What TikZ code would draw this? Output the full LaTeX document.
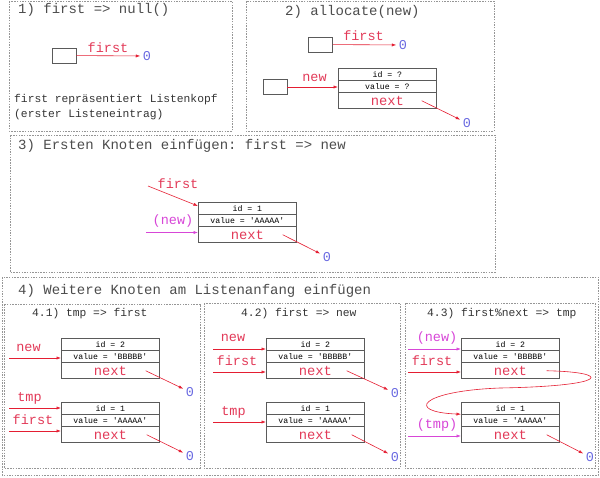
\documentclass[tikz,border=0pt]{standalone}
\usepackage{fontspec}
\setmonofont{Liberation Mono}
\usepackage{xcolor}
\usetikzlibrary{positioning,arrows.meta}
\definecolor{lblred}{RGB}{226,58,88}
\definecolor{ptrred}{RGB}{228,30,50}
\definecolor{lblmag}{RGB}{215,70,215}
\definecolor{zeroblue}{RGB}{105,105,225}
\definecolor{boxgray}{RGB}{90,90,90}
\definecolor{panelgray}{RGB}{150,150,150}
\tikzset{panel/.style={draw=panelgray,dash pattern=on 1.5pt off 1.2pt,line width=0.6pt},
title/.style={anchor=west,text=black!70,inner sep=0pt,font=\ttfamily\fontsize{14}{16}\selectfont},
subtitle/.style={anchor=west,text=black!80,inner sep=0pt,font=\ttfamily\fontsize{11.3}{15}\selectfont},
ptrbox/.style={draw=boxgray,line width=0.7pt,minimum width=24pt,minimum height=15pt,inner sep=0pt},
idrow/.style={draw=boxgray,line width=0.7pt,minimum width=98pt,minimum height=11.5pt,inner sep=0pt,font=\ttfamily\fontsize{8.2}{9}\selectfont},
nextrow/.style={idrow,minimum height=16pt,text=lblred,font=\ttfamily\fontsize{13.8}{14}\selectfont},
lbl/.style={inner sep=0pt,text=lblred,font=\ttfamily\fontsize{13.5}{14}\selectfont},
lblnew/.style={lbl,text=lblmag},
zero/.style={inner sep=2.5pt,text=zeroblue,font=\ttfamily\fontsize{13.5}{14}\selectfont},
ptr/.style={ptrred,line width=0.6pt,-{Latex[length=4.5pt,width=3.2pt]}},
ptrnew/.style={ptr,lblmag}}

\begin{document}
\begin{tikzpicture}[x=1pt,y=-1pt]
\useasboundingbox (0,0) rectangle (600,477);
% panels
\draw[panel] (9,1) rectangle (232,131);
\draw[panel] (246,1) rectangle (494,131);
\draw[panel] (10,135) rectangle (495,272);
\draw[panel] (2,277) rectangle (598,475);
\draw[panel] (4,304) rectangle (200,468);
\draw[panel] (204,303) rectangle (400,468);
\draw[panel] (405,303) rectangle (595,468);
% 1) first => null()
\node[title] (t1) at (18,10) {1) first => null()};
\node[ptrbox] (p1) at (64,55.5) {};
\node[lbl] (l1) at (108,48) {first};
\node[zero] (z1) at (147,56) {0};
\path[ptr] (p1) edge (z1);
\node[subtitle,align=left] (txt1) at (14,107.5) {first repräsentiert Listenkopf\\(erster Listeneintrag)};
% 2) allocate(new)
\node[title] (t2) at (285,12) {2) allocate(new)};
\node[ptrbox] (p2a) at (320.5,44.5) {};
\node[lbl] (l2a) at (363.5,36) {first};
\node[zero] (z2a) at (403,45) {0};
\path[ptr] (p2a) edge (z2a);
\node[ptrbox] (p2b) at (275,87) {};
\node[lbl] (l2b) at (314.5,78) {new};
\node[idrow,anchor=north west] (r2i) at (338,68) {id = ?};
\node[idrow,below=0pt of r2i] (r2v) {value = ?};
\node[nextrow,below=0pt of r2v] (r2n) {next};
\coordinate (r2s) at ([xshift=-15pt]r2n.east);
\node[zero] (z2b) at (467,123) {0};
\path[ptr] (p2b) edge (p2b -| r2v.west);
\path[ptr] (r2s) edge (z2b);
% 3) first => new
\node[title] (t3) at (18,146) {3) Ersten Knoten einfügen: first => new};
\node[idrow,anchor=north west] (r3i) at (198,202) {id = 1};
\node[idrow,below=0pt of r3i] (r3v) {value = 'AAAAA'};
\node[nextrow,below=0pt of r3v] (r3n) {next};
\coordinate (c3f) at (148,186);
\coordinate (c3n) at (146,232.5);
\coordinate (r3s) at ([xshift=-14pt]r3n.east);
\node[lbl] (l3f) at (178,184) {first};
\node[lblnew] (l3n) at (173,221) {(new)};
\node[zero] (z3) at (327,257) {0};
\path[ptr] (c3f) edge ([yshift=-4pt]r3i.north west);
\path[ptrnew] (c3n) edge (c3n -| r3n.west);
\path[ptr] (r3s) edge (z3);
% 4) Listenanfang
\node[title] (t4) at (18,291) {4) Weitere Knoten am Listenanfang einfügen};
% 4.1
\node[subtitle] (t41) at (32,314) {4.1) tmp => first};
\node[idrow,anchor=north west] (r41ai) at (61,338) {id = 2};
\node[idrow,below=0pt of r41ai] (r41av) {value = 'BBBBB'};
\node[nextrow,below=0pt of r41av] (r41an) {next};
\node[idrow,anchor=north west] (r41bi) at (61,402) {id = 1};
\node[idrow,below=0pt of r41bi] (r41bv) {value = 'AAAAA'};
\node[nextrow,below=0pt of r41bv] (r41bn) {next};
\coordinate (c41n) at (9,358);
\coordinate (c41t) at (9,408);
\coordinate (c41f) at (9,431);
\coordinate (r41as) at ([xshift=-14pt]r41an.east);
\coordinate (r41bs) at ([xshift=-13pt]r41bn.east);
\node[lbl] (l41n) at (28.5,348) {new};
\node[lbl] (l41t) at (29.5,398) {tmp};
\node[lbl] (l41f) at (33,420) {first};
\node[zero] (z41a) at (190,392) {0};
\node[zero] (z41b) at (190,456) {0};
\path[ptr] (c41n) edge (c41n -| r41av.west);
\path[ptr] (c41t) edge (c41t -| r41bi.west);
\path[ptr] (c41f) edge (c41f -| r41bn.west);
\path[ptr] (r41as) edge (z41a);
\path[ptr] (r41bs) edge (z41b);
% 4.2
\node[subtitle] (t42) at (241,314) {4.2) first => new};
\node[idrow,anchor=north west] (r42ai) at (266,338) {id = 2};
\node[idrow,below=0pt of r42ai] (r42av) {value = 'BBBBB'};
\node[nextrow,below=0pt of r42av] (r42an) {next};
\node[idrow,anchor=north west] (r42bi) at (266,402) {id = 1};
\node[idrow,below=0pt of r42bi] (r42bv) {value = 'AAAAA'};
\node[nextrow,below=0pt of r42bv] (r42bn) {next};
\coordinate (c42n) at (213,349);
\coordinate (c42f) at (213,372);
\coordinate (c42t) at (213,422);
\coordinate (r42as) at ([xshift=-18pt]r42an.east);
\coordinate (r42bs) at ([xshift=-13pt]r42bn.east);
\node[lbl] (l42n) at (233,338) {new};
\node[lbl] (l42f) at (237,361) {first};
\node[lbl] (l42t) at (233.5,412) {tmp};
\node[zero] (z42a) at (395,393) {0};
\node[zero] (z42b) at (395,457) {0};
\path[ptr] (c42n) edge (c42n -| r42ai.west);
\path[ptr] (c42f) edge (c42f -| r42an.west);
\path[ptr] (c42t) edge (c42t -| r42bv.west);
\path[ptr] (r42as) edge (z42a);
\path[ptr] (r42bs) edge (z42b);
% 4.3
\node[subtitle] (t43) at (427,314) {4.3) first\%next => tmp};
\node[idrow,anchor=north west] (r43ai) at (461,338) {id = 2};
\node[idrow,below=0pt of r43ai] (r43av) {value = 'BBBBB'};
\node[nextrow,below=0pt of r43av] (r43an) {next};
\node[idrow,anchor=north west] (r43bi) at (461,402) {id = 1};
\node[idrow,below=0pt of r43bi] (r43bv) {value = 'AAAAA'};
\node[nextrow,below=0pt of r43bv] (r43bn) {next};
\coordinate (c43n) at (408,349);
\coordinate (c43f) at (408,372);
\coordinate (c43t) at (408,436);
\coordinate (r43as) at ([xshift=-13pt]r43an.east);
\coordinate (r43bs) at ([xshift=-13pt]r43bn.east);
\node[lblnew] (l43n) at (437,338) {(new)};
\node[lbl] (l43f) at (432,361) {first};
\node[lblnew] (l43t) at (437,425) {(tmp)};
\node[zero] (z43) at (590,457) {0};
\path[ptrnew] (c43n) edge (c43n -| r43ai.west);
\path[ptr] (c43f) edge (c43f -| r43an.west);
\path[ptrnew] (c43t) edge (c43t -| r43bn.west);
\draw[ptr] (r43as) .. controls (612,372) and (612,386) .. (500,388) .. controls (420,391) and (405,412) .. (r43bi.south west);
\path[ptr] (r43bs) edge (z43);
\end{tikzpicture}
\end{document}
